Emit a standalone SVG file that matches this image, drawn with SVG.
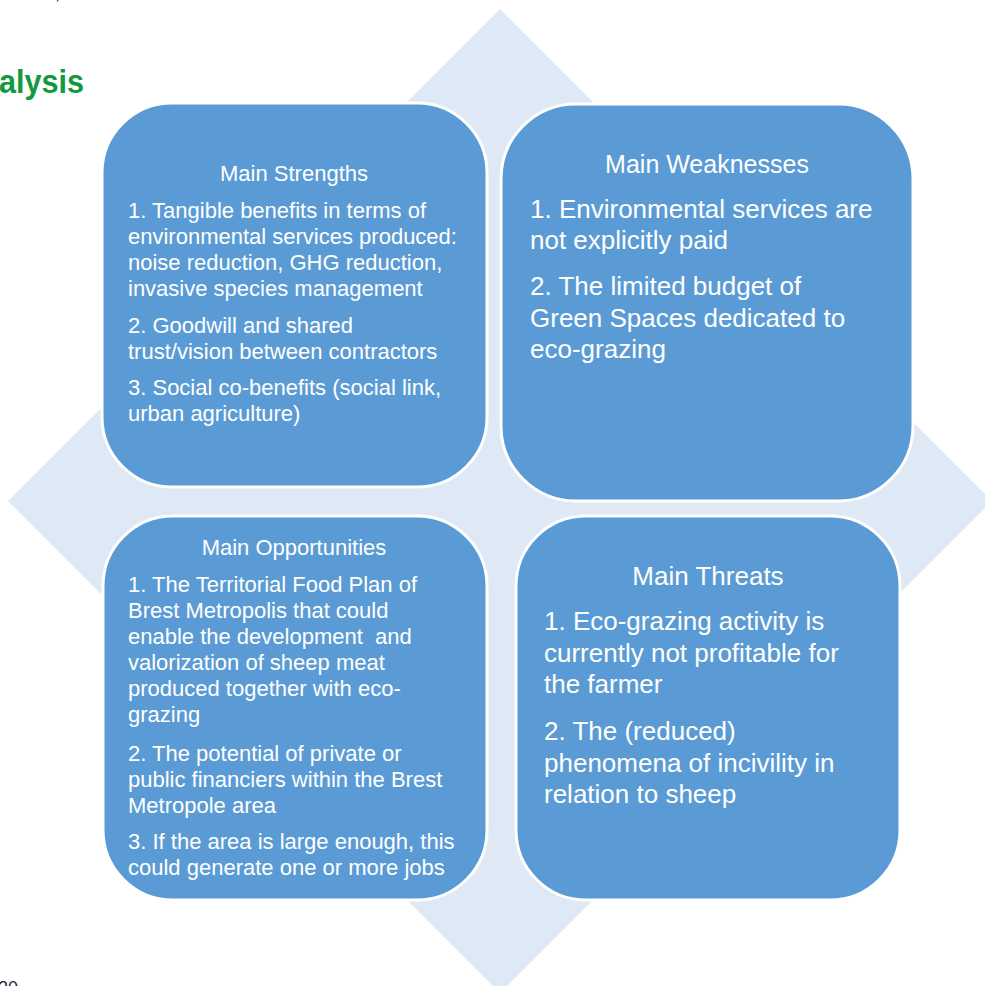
<svg xmlns="http://www.w3.org/2000/svg" width="985" height="986" viewBox="0 0 985 986">
<style>
.box{fill:#5B9BD5;stroke:#FFFFFF;stroke-width:3}
.t{font-family:"Liberation Sans",Arial,sans-serif;fill:#FFFFFF;white-space:pre}
.s22{font-size:22px}
.s26{font-size:26px}
.h{text-anchor:middle}
</style>
<rect width="985" height="986" fill="#FFFFFF"/>
<text x="55" y="-1" font-family="Liberation Sans,Arial,sans-serif" font-size="18" fill="#222222">,</text>
<text x="-1" y="93" font-family="Liberation Sans,Arial,sans-serif" font-size="33" font-weight="bold" fill="#12993F" textLength="85" lengthAdjust="spacingAndGlyphs">alysis</text>
<text x="-2" y="994" font-family="Liberation Sans,Arial,sans-serif" font-size="18" fill="#1F2940">20</text>
<polygon id="diamond" points="500,9 992,501 500,993 8,501" fill="#DEE9F5"/>
<g id="strengths">
<rect class="box" x="102" y="103" width="385" height="384" rx="70" ry="70"/>
<text class="t s22 h" x="294" y="181">Main Strengths</text>
<text class="t s22" x="128" y="218">1. Tangible benefits in terms of</text>
<text class="t s22" x="128" y="244">environmental services produced:</text>
<text class="t s22" x="128" y="270">noise reduction, GHG reduction,</text>
<text class="t s22" x="128" y="296">invasive species management</text>
<text class="t s22" x="128" y="333">2. Goodwill and shared</text>
<text class="t s22" x="128" y="359">trust/vision between contractors</text>
<text class="t s22" x="128" y="395">3. Social co-benefits (social link,</text>
<text class="t s22" x="128" y="421">urban agriculture)</text>
</g>
<g id="weaknesses">
<rect class="box" x="501" y="104" width="412" height="397" rx="75" ry="75"/>
<text class="t h" x="707" y="173" font-size="25">Main Weaknesses</text>
<text class="t s26" x="530" y="218">1. Environmental services are</text>
<text class="t s26" x="530" y="249">not explicitly paid</text>
<text class="t s26" x="530" y="295">2. The limited budget of</text>
<text class="t s26" x="530" y="327">Green Spaces dedicated to</text>
<text class="t s26" x="530" y="358">eco-grazing</text>
</g>
<g id="opportunities">
<rect class="box" x="103" y="516" width="384" height="384" rx="70" ry="70"/>
<text class="t s22 h" x="294" y="555">Main Opportunities</text>
<text class="t s22" x="128" y="592">1. The Territorial Food Plan of</text>
<text class="t s22" x="128" y="618">Brest Metropolis that could</text>
<text class="t s22" x="128" y="644">enable the development&#160; and</text>
<text class="t s22" x="128" y="670">valorization of sheep meat</text>
<text class="t s22" x="128" y="696">produced together with eco-</text>
<text class="t s22" x="128" y="722">grazing</text>
<text class="t s22" x="128" y="761">2. The potential of private or</text>
<text class="t s22" x="128" y="787">public financiers within the Brest</text>
<text class="t s22" x="128" y="813">Metropole area</text>
<text class="t s22" x="128" y="849">3. If the area is large enough, this</text>
<text class="t s22" x="128" y="875">could generate one or more jobs</text>
</g>
<g id="threats">
<rect class="box" x="516" y="516" width="384" height="384" rx="70" ry="70"/>
<text class="t s26 h" x="708" y="585">Main Threats</text>
<text class="t s26" x="544" y="630">1. Eco-grazing activity is</text>
<text class="t s26" x="544" y="662">currently not profitable for</text>
<text class="t s26" x="544" y="693">the farmer</text>
<text class="t s26" x="544" y="740">2. The (reduced)</text>
<text class="t s26" x="544" y="772">phenomena of incivility in</text>
<text class="t s26" x="544" y="803">relation to sheep</text>
</g>
<g id="connectors"></g>
</svg>
